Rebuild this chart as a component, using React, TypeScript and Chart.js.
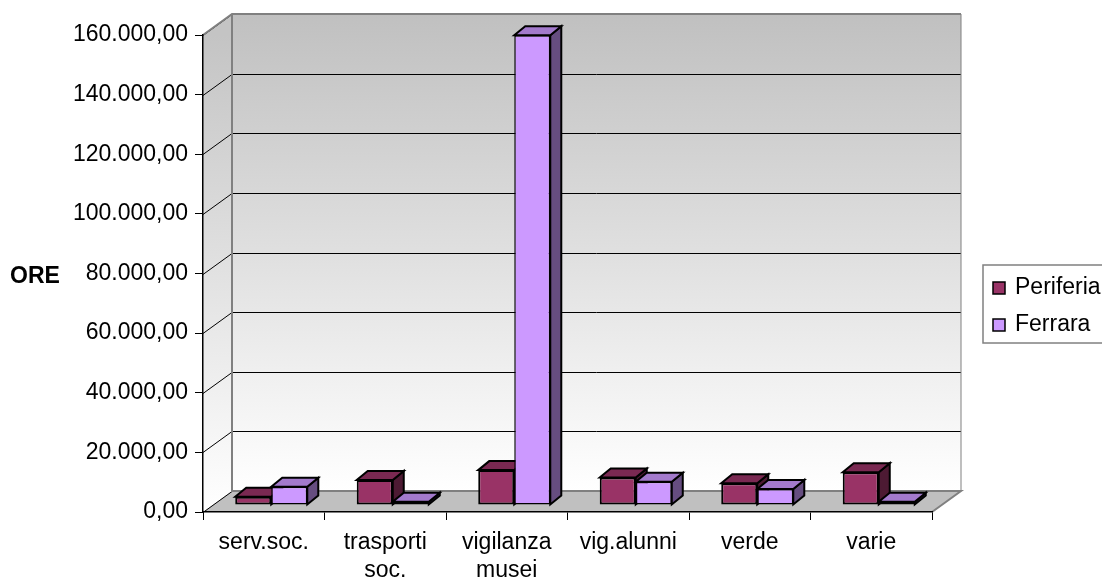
import React, { useEffect, useRef } from 'react';
import { Chart, registerables } from 'chart.js';

Chart.register(...registerables);

const FONT = "'Liberation Sans', Arial, Helvetica, sans-serif";

// ---- data ----
const categories: (string | string[])[] = [
  'serv.soc.',
  ['trasporti', 'soc.'],
  ['vigilanza', 'musei'],
  'vig.alunni',
  'verde',
  'varie',
];
const seriesNames = ['Periferia', 'Ferrara'];
const periferia = [2800, 8400, 11700, 9200, 7300, 11000];
const ferrara = [6100, 1100, 157600, 7800, 5400, 1100];
const yMin = 0;
const yMax = 160000;
const yStep = 20000;
const yTitle = 'ORE';

// ---- styles ----
const frontColors = ['#993366', '#CC99FF'];
const topColors = ['#7A2952', '#A37ACC'];
const sideColors = ['#4D1A33', '#664D80'];
const FLOOR_DX = 29;
const FLOOR_DY = -21;
const BAR_SHIFT_X = 7.5;
const BAR_SHIFT_Y = -7;
const BAR_DX = 11;
const BAR_DY = -9;

function fmt(v: number): string {
  const s = Math.round(v).toString().replace(/\B(?=(\d{3})+(?!\d))/g, '.');
  return s + ',00';
}

const threeD = {
  id: 'threeD',
  beforeDraw(chart: any) {
    const ctx = chart.ctx;
    const { left, right, top, bottom } = chart.chartArea;
    const ys = chart.scales.y;
    ctx.save();
    const grad = ctx.createLinearGradient(0, top + FLOOR_DY, 0, bottom + FLOOR_DY);
    grad.addColorStop(0, '#c0c0c0');
    grad.addColorStop(1, '#ffffff');
    // back wall
    ctx.fillStyle = grad;
    ctx.fillRect(left + FLOOR_DX, top + FLOOR_DY, right - left, bottom - top);
    // side wall
    const grad2 = ctx.createLinearGradient(0, top, 0, bottom);
    grad2.addColorStop(0, '#c4c4c4');
    grad2.addColorStop(1, '#ffffff');
    ctx.fillStyle = grad2;
    ctx.beginPath();
    ctx.moveTo(left, top);
    ctx.lineTo(left + FLOOR_DX, top + FLOOR_DY);
    ctx.lineTo(left + FLOOR_DX, bottom + FLOOR_DY);
    ctx.lineTo(left, bottom);
    ctx.closePath();
    ctx.fill();
    // floor
    ctx.fillStyle = '#c0c0c0';
    ctx.beginPath();
    ctx.moveTo(left, bottom);
    ctx.lineTo(right, bottom);
    ctx.lineTo(right + FLOOR_DX, bottom + FLOOR_DY);
    ctx.lineTo(left + FLOOR_DX, bottom + FLOOR_DY);
    ctx.closePath();
    ctx.fill();
    // gridlines
    ctx.strokeStyle = '#000';
    ctx.lineWidth = 1;
    for (let v = yMin; v <= yMax; v += yStep) {
      const y = Math.round(ys.getPixelForValue(v)) + 0.5;
      ctx.beginPath();
      ctx.moveTo(left, y);
      ctx.lineTo(left + FLOOR_DX, y + FLOOR_DY);
      if (v > yMin && v < yMax) ctx.lineTo(right + FLOOR_DX, y + FLOOR_DY);
      ctx.stroke();
    }
    // gray edges
    ctx.strokeStyle = '#808080';
    ctx.lineWidth = 2;
    ctx.beginPath();
    ctx.moveTo(left, top);
    ctx.lineTo(left + FLOOR_DX, top + FLOOR_DY);
    ctx.lineTo(right + FLOOR_DX, top + FLOOR_DY);
    ctx.moveTo(left + FLOOR_DX, top + FLOOR_DY);
    ctx.lineTo(left + FLOOR_DX, bottom + FLOOR_DY);
    ctx.lineTo(right + FLOOR_DX, bottom + FLOOR_DY);
    ctx.lineTo(right, bottom);
    ctx.stroke();
    ctx.lineWidth = 1;
    ctx.beginPath();
    ctx.moveTo(right + FLOOR_DX, top + FLOOR_DY);
    ctx.lineTo(right + FLOOR_DX, bottom + FLOOR_DY);
    ctx.stroke();
    ctx.restore();
  },
  beforeDatasetsDraw(chart: any) {
    const ctx = chart.ctx;
    ctx.save();
    ctx.translate(BAR_SHIFT_X, BAR_SHIFT_Y);
    chart.data.datasets.forEach((ds: any, di: number) => {
      const meta = chart.getDatasetMeta(di);
      meta.data.forEach((el: any) => {
        const { x, y, base, width } = el.getProps(['x', 'y', 'base', 'width'], true);
        const x0 = x - width / 2;
        const x1 = x + width / 2;
        ctx.lineWidth = 2;
        ctx.lineJoin = 'miter';
        ctx.strokeStyle = '#000';
        // side
        ctx.fillStyle = sideColors[di];
        ctx.beginPath();
        ctx.moveTo(x1, y);
        ctx.lineTo(x1 + BAR_DX, y + BAR_DY);
        ctx.lineTo(x1 + BAR_DX, base + BAR_DY);
        ctx.lineTo(x1, base);
        ctx.closePath();
        ctx.fill();
        ctx.stroke();
        // top
        ctx.fillStyle = topColors[di];
        ctx.beginPath();
        ctx.moveTo(x0, y);
        ctx.lineTo(x1, y);
        ctx.lineTo(x1 + BAR_DX, y + BAR_DY);
        ctx.lineTo(x0 + BAR_DX, y + BAR_DY);
        ctx.closePath();
        ctx.fill();
        ctx.stroke();
      });
    });
  },
  afterDatasetsDraw(chart: any) {
    chart.ctx.restore();
  },
  afterDraw(chart: any) {
    const ctx = chart.ctx;
    ctx.save();
    // y title
    ctx.fillStyle = '#000';
    ctx.font = `bold 23px ${FONT}`;
    ctx.textAlign = 'left';
    ctx.textBaseline = 'alphabetic';
    ctx.fillText(yTitle, 10, 283);
    // legend
    ctx.strokeStyle = '#808080';
    ctx.lineWidth = 1.5;
    ctx.strokeRect(983, 265, 140, 78);
    ctx.font = `23px ${FONT}`;
    const rows = [288, 325];
    seriesNames.forEach((name, i) => {
      const cy = rows[i];
      ctx.fillStyle = frontColors[i];
      ctx.fillRect(993, cy - 6, 12, 12);
      ctx.strokeStyle = '#000';
      ctx.lineWidth = 1.5;
      ctx.strokeRect(993, cy - 6, 12, 12);
      ctx.fillStyle = '#000';
      ctx.fillText(name, 1015, cy + 6);
    });
    ctx.restore();
  },
};

export default function App() {
  const ref = useRef<HTMLCanvasElement>(null);
  useEffect(() => {
    if (!ref.current) return;
    const chart = new Chart(ref.current, {
      type: 'bar',
      data: {
        labels: categories as any,
        datasets: [
          {
            label: seriesNames[0],
            data: periferia,
            backgroundColor: frontColors[0],
            borderColor: '#000',
            borderWidth: 2,
            borderSkipped: false,
          },
          {
            label: seriesNames[1],
            data: ferrara,
            backgroundColor: frontColors[1],
            borderColor: '#000',
            borderWidth: 1.5,
            borderSkipped: false,
          },
        ],
      },
      options: {
        responsive: false,
        animation: false,
        clip: false as any,
        layout: { padding: { top: 35, right: 170, left: 0, bottom: 0 } },
        datasets: { bar: { categoryPercentage: 0.593, barPercentage: 1 } },
        plugins: { legend: { display: false }, tooltip: { enabled: false } },
        scales: {
          x: {
            afterFit: (s: any) => { s.height = 69; },
            grid: { drawOnChartArea: false, drawTicks: true, tickLength: 8, color: '#000', offset: true },
            border: { display: true, color: '#000', width: 1.5 },
            ticks: {
              color: '#000',
              font: { family: FONT, size: 23, lineHeight: 1.2 },
              maxRotation: 0,
              autoSkip: false,
              padding: 9,
            },
          },
          y: {
            min: yMin,
            max: yMax,
            afterFit: (s: any) => { s.width = 203; },
            grid: { drawOnChartArea: false, drawTicks: true, tickLength: 8, color: '#000' },
            border: { display: true, color: '#000', width: 1.5 },
            ticks: {
              stepSize: yStep,
              color: '#000',
              font: { family: FONT, size: 23 },
              padding: 7,
              callback: (v: any) => fmt(Number(v)),
            },
          },
        },
      },
      plugins: [threeD],
    });
    return () => chart.destroy();
  }, []);
  return (
    <div style={{ position: 'fixed', left: 0, top: 0, width: 1102, height: 581, background: '#fff' }}>
      <canvas ref={ref} width={1102} height={581} style={{ display: 'block' }} />
    </div>
  );
}
